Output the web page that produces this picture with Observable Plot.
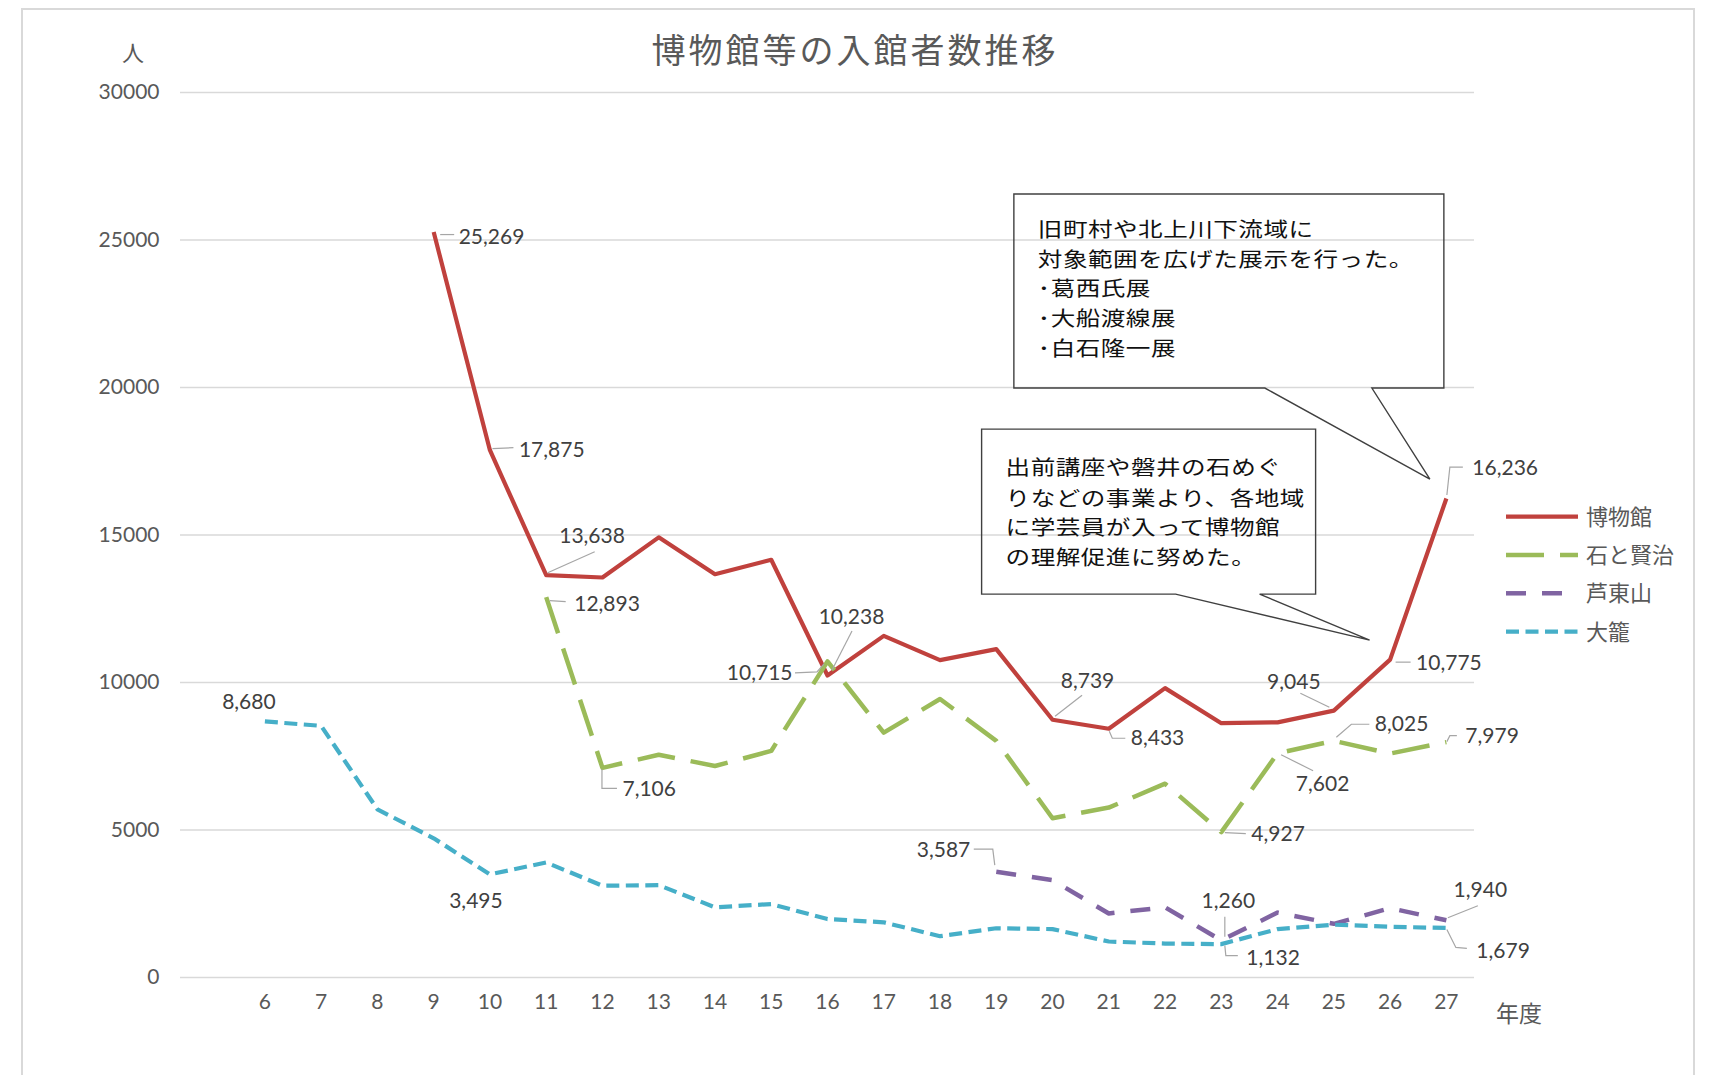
<!DOCTYPE html>
<html>
<head>
<meta charset="utf-8">
<script src="https://cdn.jsdelivr.net/npm/d3@7"></script>
<script src="https://cdn.jsdelivr.net/npm/@observablehq/plot@0.6"></script>
<style>
  body { margin: 0; background: #fff; }
  #wrap { position: relative; width: 1710px; height: 1075px; overflow: hidden; background: #fff;
          font-family: "Noto Sans CJK JP", sans-serif; }
  #frame { position: absolute; left: 21px; top: 8px; width: 1670px; height: 1120px; border: 2px solid #d9d9d9; }
  #title { position: absolute; left: 0; top: 30px; width: 1710px; text-align: center; font-size: 34px;
           line-height: 38px; letter-spacing: 3px; color: #595959; }
  #unit { position: absolute; left: 122px; top: 38px; font-size: 22px; line-height: 26px; color: #595959; }
  #chart { position: absolute; left: 0; top: 70px; }
</style>
</head>
<body>
<div id="wrap">
  <div id="frame"></div>
  <div id="title">博物館等の入館者数推移</div>
  <div id="unit">人</div>
  <div id="chart"></div>
</div>
<script>
// ---------- data ----------
const years = [6,7,8,9,10,11,12,13,14,15,16,17,18,19,20,21,22,23,24,25,26,27];
const yTicks = [0,5000,10000,15000,20000,25000,30000];
const seriesNames = ["博物館","石と賢治","芦東山","大籠"];
const museum  = [null,null,null,25269,17875,13638,13560,14920,13670,14160,10238,11580,10760,11130,8739,8433,9810,8620,8650,9045,10775,16236];
const ishiKenji = [null,null,null,null,null,12893,7106,7550,7170,7680,10715,8300,9440,8020,5400,5760,6570,4927,7602,8025,7590,7979];
const ashiTozan = [null,null,null,null,null,null,null,null,null,null,null,null,null,3587,3300,2170,2380,1260,2200,1820,2350,1940];
const okago     = [8680,8530,5700,4720,3495,3900,3110,3130,2380,2490,1980,1870,1400,1670,1640,1220,1150,1132,1640,1790,1720,1679];
const seriesValues = [museum, ishiKenji, ashiTozan, okago];
const calloutText1 = ["旧町村や北上川下流域に","対象範囲を広げた展示を行った。","･葛西氏展","･大船渡線展","･白石隆一展"];
const calloutText2 = ["出前講座や磐井の石めぐ","りなどの事業より、各地域","に学芸員が入って博物館","の理解促進に努めた。"];

// ---------- styles ----------
const lineStyles = [
  {color: "#c0413d", width: 4.2, dash: null},
  {color: "#9bbb59", width: 4.5, dash: "38,16"},
  {color: "#8064a2", width: 4.5, dash: "20,16"},
  {color: "#46afc8", width: 4.2, dash: "13,6.5"}
];
const numFont = "Lato, 'Noto Sans CJK JP', sans-serif";
const jpFont = "'Noto Sans CJK JP', sans-serif";

// data label placement (pixel offsets relative to the data point)
const labelDefs = [
  {s:0, year:9,  anchor:"start",  dx:25, dy:5,   leader:[[7,3],[21,3]]},
  {s:0, year:10, anchor:"start",  dx:29, dy:0,   leader:[[3,-1],[24,-2]]},
  {s:0, year:11, anchor:"start",  dx:13, dy:-39, leader:[[2,-2],[49,-23]]},
  {s:1, year:11, anchor:"start",  dx:28, dy:7,   leader:[[4,4],[20,5]]},
  {s:1, year:12, anchor:"start",  dx:20, dy:21,  leader:[[0,2],[0,21],[15,21]]},
  {s:3, year:6,  anchor:"middle", dx:-16, dy:-19},
  {s:3, year:10, anchor:"middle", dx:-14, dy:27},
  {s:0, year:16, anchor:"middle", dx:24, dy:-58, leader:[[5,-5],[25,-44]]},
  {s:1, year:16, anchor:"end",    dx:-35, dy:12, leader:[[-32,12],[-10,11],[-3,3]]},
  {s:0, year:20, anchor:"middle", dx:35, dy:-38, leader:[[3,-3],[30,-24]]},
  {s:0, year:21, anchor:"start",  dx:22, dy:10,  leader:[[1,3],[4,10],[17,10]]},
  {s:0, year:25, anchor:"middle", dx:-40, dy:-28, leader:[[-33,-17],[-4,-3]]},
  {s:0, year:26, anchor:"start",  dx:26, dy:4,   leader:[[6,3],[21,3]]},
  {s:0, year:27, anchor:"start",  dx:26, dy:-30, leader:[[1,-3],[4,-31],[17,-31]]},
  {s:1, year:23, anchor:"start",  dx:30, dy:2,   leader:[[4,1],[25,2]]},
  {s:1, year:24, anchor:"middle", dx:45, dy:31,  leader:[[4,2],[36,18]]},
  {s:1, year:25, anchor:"start",  dx:41, dy:-16, leader:[[3,-3],[18,-16],[36,-16]]},
  {s:1, year:27, anchor:"start",  dx:19, dy:-6,  leader:[[1,0],[4,-6],[11,-6]]},
  {s:2, year:19, anchor:"end",    dx:-26, dy:-21, leader:[[-22,-22],[-3,-22],[-1,-6]]},
  {s:2, year:23, anchor:"middle", dx:7,  dy:-39, leader:[[4,-3],[4,-23]]},
  {s:3, year:23, anchor:"start",  dx:25, dy:14,  leader:[[4,2],[5,12],[17,12]]},
  {s:2, year:27, anchor:"middle", dx:34, dy:-30, leader:[[2,-2],[32,-14]]},
  {s:3, year:27, anchor:"start",  dx:30, dy:23,  leader:[[1,2],[10,20],[21,21]]}
];

// callouts anchored to a data point with pixel offsets
const callouts = [
  {s:0, year:27, box:[-432,-304,-2,-110], base:[-181,-74], tip:[-16,-19], textX:-408, rows:[-268,-238,-209,-179,-149], lines: calloutText1},
  {s:0, year:26, box:[-408,-230,-74,-65], base:[-214,-130], tip:[-20,-19], textX:-384, rows:[-192,-161,-132,-102], lines: calloutText2}
];

const fmt = d3.format(",");
const valueOf = (s, year) => seriesValues[s][years.indexOf(year)];
const rowsFor = s => years.map((year, i) => ({year, value: seriesValues[s][i]})).filter(d => d.value != null);

// ---------- custom render marks ----------
function leaderMark(index, {x, y}) {
  const g = d3.create("svg:g").attr("fill", "none").attr("stroke", "#a6a6a6").attr("stroke-width", 1.2);
  for (const L of labelDefs) {
    if (!L.leader) continue;
    const px = x(L.year), py = y(valueOf(L.s, L.year));
    g.append("polyline").attr("points", L.leader.map(([a, b]) => `${px + a},${py + b}`).join(" "));
  }
  return g.node();
}

function calloutMark(index, {x, y}) {
  const g = d3.create("svg:g").attr("text-anchor", "start");
  for (const c of callouts) {
    const px = x(c.year), py = y(valueOf(c.s, c.year));
    const [l, t, r, b] = c.box;
    const d = `M${px + c.base[0]},${py + b} L${px + l},${py + b} L${px + l},${py + t} L${px + r},${py + t} L${px + r},${py + b} L${px + c.base[1]},${py + b} L${px + c.tip[0]},${py + c.tip[1]} Z`;
    g.append("path").attr("d", d).attr("fill", "none").attr("stroke", "#404040").attr("stroke-width", 1.4).attr("stroke-linejoin", "miter");
    c.lines.forEach((line, i) => {
      g.append("text")
        .attr("transform", `translate(${px + c.textX},${py + c.rows[i]}) scale(1.2,1)`)
        .attr("dy", "0.36em")
        .attr("text-anchor", "start")
        .attr("font-family", jpFont).attr("font-size", 20.5).attr("letter-spacing", "0.4px")
        .attr("fill", "#111").text(line);
    });
  }
  return g.node();
}

function legendMark(index, scales, values, dims) {
  const g = d3.create("svg:g").attr("text-anchor", "start");
  const x0 = dims.width - dims.marginRight + 32;
  seriesNames.forEach((name, i) => {
    const st = lineStyles[i];
    const yy = dims.marginTop + 424.7 + i * 38.3;
    const ln = g.append("line").attr("x1", x0).attr("x2", x0 + 72).attr("y1", yy).attr("y2", yy)
      .attr("stroke", st.color).attr("stroke-width", st.width);
    if (st.dash) ln.attr("stroke-dasharray", st.dash);
    g.append("text").attr("x", x0 + 80).attr("y", yy).attr("dy", "0.36em").attr("text-anchor", "start")
      .attr("font-family", jpFont).attr("font-size", 22).attr("fill", "#595959").text(name);
  });
  g.append("text").attr("x", dims.width - dims.marginRight + 45).attr("y", dims.height - dims.marginBottom + 37)
    .attr("dy", "0.36em").attr("text-anchor", "middle")
    .attr("font-family", jpFont).attr("font-size", 23).attr("fill", "#595959").text("年度");
  return g.node();
}

// ---------- marks ----------
const lineMarks = seriesNames.map((name, s) => Plot.line(rowsFor(s), {
  x: "year", y: "value",
  stroke: lineStyles[s].color, strokeWidth: lineStyles[s].width,
  strokeDasharray: lineStyles[s].dash || undefined,
  strokeLinejoin: "round", strokeLinecap: "butt"
}));

const labelMarks = labelDefs.map(L => Plot.text([{year: L.year, value: valueOf(L.s, L.year)}], {
  x: "year", y: "value", text: d => fmt(d.value),
  dx: L.dx, dy: L.dy, textAnchor: L.anchor, lineAnchor: "middle",
  fontSize: 21, fill: "#404040", fontFamily: numFont
}));

const chart = Plot.plot({
  width: 1710,
  height: 1005,
  marginLeft: 180,
  marginRight: 236,
  marginTop: 22,
  marginBottom: 98,
  style: {fontFamily: numFont, background: "transparent", overflow: "visible"},
  x: {domain: [4.5, 27.5], label: null},
  y: {domain: [0, 30000], label: null},
  marks: [
    Plot.ruleY(yTicks, {stroke: "#d9d9d9", strokeWidth: 1.4}),
    Plot.axisY({ticks: yTicks, tickSize: 0, tickPadding: 21, tickFormat: d => String(d), fontSize: 21, fill: "#595959", label: null}),
    Plot.axisX({ticks: years, tickSize: 0, tickPadding: 17, tickFormat: d => String(d), fontSize: 21, fill: "#595959", label: null}),
    calloutMark,
    ...lineMarks,
    leaderMark,
    ...labelMarks,
    legendMark
  ]
});
document.getElementById("chart").appendChild(chart);
</script>
</body>
</html>
